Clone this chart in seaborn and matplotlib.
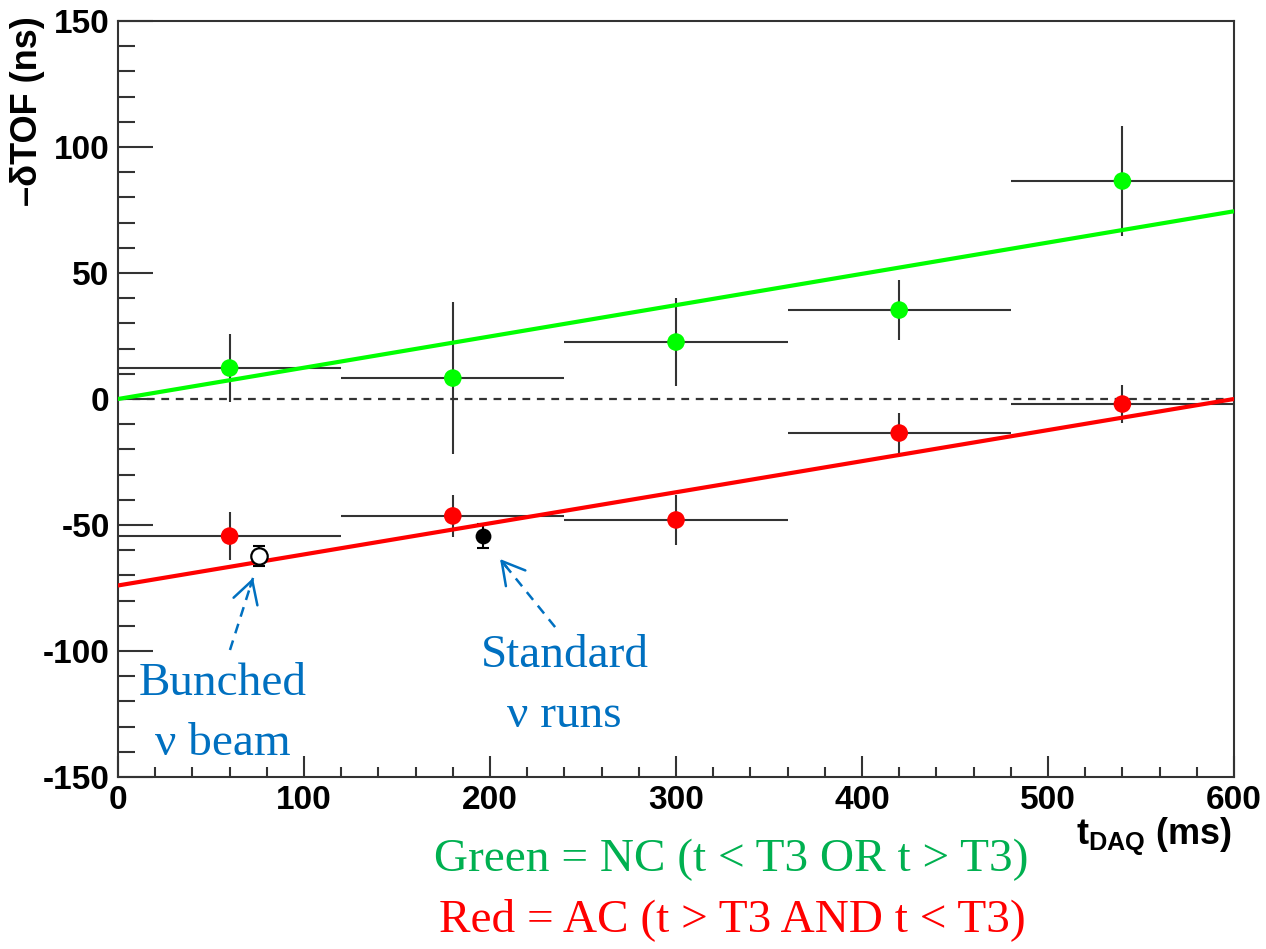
import numpy as np
import pandas as pd
import matplotlib
matplotlib.use("Agg")
import matplotlib.pyplot as plt
from matplotlib.ticker import MultipleLocator
import seaborn as sns

# Time bins (ms) and measured -dTOF (ns) with uncertainties
bin_center = [60, 180, 300, 420, 540]
bin_halfwidth = [60, 60, 60, 60, 60]
nc_tof = [12.3, 8.3, 22.6, 35.3, 86.5]
nc_err = [13.3, 30.0, 17.4, 12.0, 22.0]
ac_tof = [-54.4, -46.4, -48.0, -13.5, -2.0]
ac_err = [9.4, 8.5, 10.0, 8.0, 7.5]

# Reference runs
bunched_t, bunched_tof, bunched_err = [75.8], [-62.3], [4.0]
standard_t, standard_tof, standard_err = [196.2], [-54.4], [4.8]

# Straight-line fits evaluated at the range ends
fit_t = [0, 600]
nc_fit = [0.0, 74.5]
ac_fit = [-74.0, 0.0]

sns.set_theme(style="white")
plt.rcParams["font.family"] = ["Liberation Sans", "DejaVu Sans"]
plt.rcParams["axes.unicode_minus"] = False
plt.rcParams["mathtext.fontset"] = "custom"
plt.rcParams["mathtext.rm"] = "Liberation Sans"
plt.rcParams["mathtext.bf"] = "Liberation Sans:bold"

fig = plt.figure(figsize=(12.66, 9.49), dpi=100)
W, H = 1266, 949
ax = fig.add_axes([118 / W, 1 - 777 / H, (1234 - 118) / W, (777 - 21) / H])

ink = "#333333"
GREEN = "#00ff00"
RED = "#ff0000"
BLUE = "#0070c0"

# zero reference
ax.axhline(0, color=ink, lw=1.6, ls=(0, (3.5, 3)), zorder=1)

# error bars
ax.errorbar(bin_center, nc_tof, xerr=bin_halfwidth, yerr=nc_err, fmt="none",
            ecolor=ink, elinewidth=1.5, zorder=2)
ax.errorbar(bin_center, ac_tof, xerr=bin_halfwidth, yerr=ac_err, fmt="none",
            ecolor=ink, elinewidth=1.5, zorder=2)
ax.errorbar(bunched_t, bunched_tof, yerr=bunched_err, fmt="none",
            ecolor="black", elinewidth=1.5, capsize=4, capthick=1.5, zorder=2)
ax.errorbar(standard_t, standard_tof, yerr=standard_err, fmt="none",
            ecolor="black", elinewidth=1.5, capsize=4, capthick=1.5, zorder=2)

# fit lines
fits = pd.DataFrame({"t": fit_t * 2, "tof": nc_fit + ac_fit,
                     "set": ["NC"] * 2 + ["AC"] * 2})
sns.lineplot(data=fits, x="t", y="tof", hue="set",
             palette={"NC": GREEN, "AC": RED}, lw=3, legend=False,
             ax=ax, zorder=3)

# data markers
pts = pd.DataFrame({"t": bin_center * 2, "tof": nc_tof + ac_tof,
                    "set": ["NC"] * 5 + ["AC"] * 5})
sns.scatterplot(data=pts, x="t", y="tof", hue="set",
                palette={"NC": GREEN, "AC": RED}, s=160, linewidth=0,
                legend=False, ax=ax, zorder=4)
sns.scatterplot(x=bunched_t, y=bunched_tof, s=140, marker="o",
                facecolor="white", edgecolor="black", linewidth=1.6,
                ax=ax, zorder=4)
sns.scatterplot(x=standard_t, y=standard_tof, s=130, marker="o",
                color="black", linewidth=0, ax=ax, zorder=4)

# axes
ax.set_xlim(0, 600)
ax.set_ylim(-150, 150)
ax.set_xlabel("")
ax.set_ylabel("")
ax.xaxis.set_major_locator(MultipleLocator(100))
ax.xaxis.set_minor_locator(MultipleLocator(20))
ax.yaxis.set_major_locator(MultipleLocator(50))
ax.yaxis.set_minor_locator(MultipleLocator(10))
ax.tick_params(axis="y", which="major", direction="in", length=25, width=1.5,
               color=ink, labelcolor="black", pad=6, labelsize=24,
               left=True, right=False)
ax.tick_params(axis="y", which="minor", direction="in", length=12, width=1.5,
               color=ink, left=True, right=False)
ax.tick_params(axis="x", which="major", direction="in", length=15, width=1.5,
               color=ink, labelcolor="black", pad=6, labelsize=24,
               bottom=True, top=False)
ax.tick_params(axis="x", which="minor", direction="in", length=7.5, width=1.5,
               color=ink, bottom=True, top=False)
for lab in ax.get_xticklabels() + ax.get_yticklabels():
    lab.set_fontweight("bold")
for sp in ax.spines.values():
    sp.set_color(ink)
    sp.set_linewidth(1.5)
    sp.set_visible(True)

fig.text(28 / W, 1 - 16 / H, "\u2013\u03b4TOF (ns)", rotation=90, ha="center",
         va="top", fontsize=26, fontweight="bold", color="black")
fig.text(1232 / W, 1 - 836 / H, r"$\mathbf{t_{DAQ}}$ (ms)", ha="right",
         va="center", fontsize=26, fontweight="bold", color="black")

# annotations
serif = ["Liberation Serif", "DejaVu Serif"]
ax.text(56.5, -113, "Bunched", ha="center", va="center", fontsize=34,
        family=serif, color=BLUE)
ax.text(56.5, -137, "\u03bd beam", ha="center", va="center", fontsize=34,
        family=serif, color=BLUE)
ax.text(240, -102, "Standard", ha="center", va="center", fontsize=34,
        family=serif, color=BLUE)
ax.text(240, -125.5, "\u03bd runs", ha="center", va="center", fontsize=34,
        family=serif, color=BLUE)


def dashed_arrow(tail, tip):
    ax.plot([tail[0], tip[0]], [tail[1], tip[1]], color=BLUE, lw=1.8,
            ls=(0, (4, 3)), zorder=5)
    d = np.array(tip) - np.array(tail)
    start = np.array(tip) - 0.12 * d
    ax.annotate("", xy=tip, xytext=tuple(start),
                arrowprops=dict(arrowstyle="->,head_length=0.8,head_width=0.45",
                                color=BLUE, lw=1.8, shrinkA=0, shrinkB=0,
                                mutation_scale=20), zorder=5)


dashed_arrow((60.2, -99.6), (72.6, -71.0))
dashed_arrow((235.0, -90.5), (205.4, -63.5))

fig.text(731 / W, 1 - 860 / H, "Green = NC (t < T3 OR t > T3)", ha="center",
         va="center", fontsize=34, family=serif, color="#00b050")
fig.text(732 / W, 1 - 920 / H, "Red = AC (t > T3 AND t < T3)", ha="center",
         va="center", fontsize=34, family=serif, color="#ff0000")

fig.savefig("out.png", dpi=100, facecolor="white")
